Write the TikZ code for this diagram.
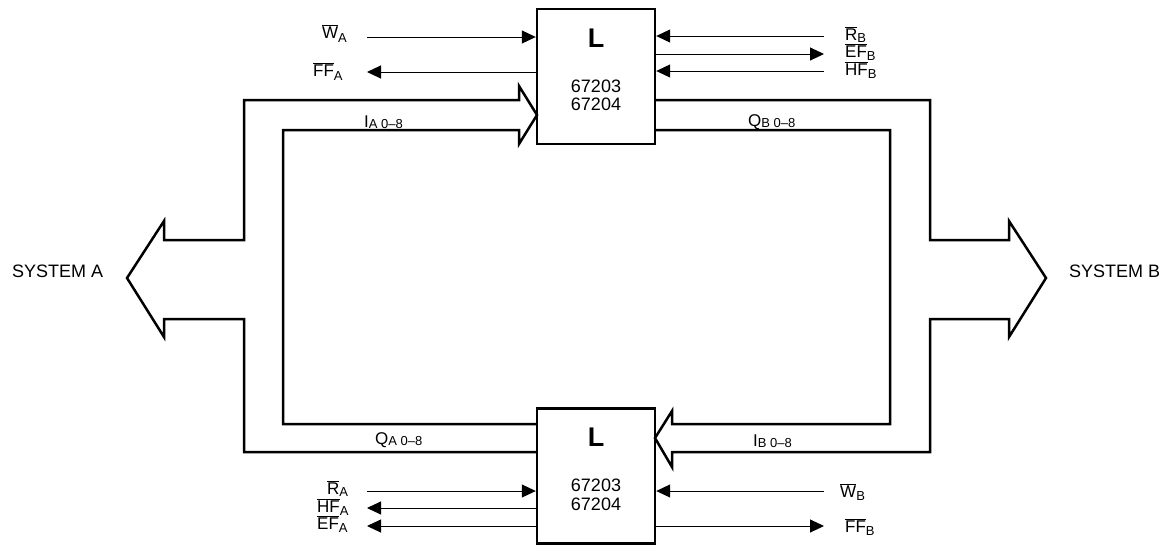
\documentclass[tikz,border=0pt]{standalone}
\usepackage{fontspec}
\setmainfont{Liberation Sans}
\usetikzlibrary{arrows.meta}
\newcommand\ovbar[1]{\ensuremath{\overline{\hbox{#1}}}}
\newcommand\subx[2][3pt]{\raisebox{-#1}{\fontsize{13}{13}\selectfont #2}}
\begin{document}
\begin{tikzpicture}[x=1pt,y=-1pt,
  chip/.style={draw,line width=2.4pt,minimum width=118pt,minimum height=135pt,inner sep=0pt},
  sigline/.style={line width=1pt,-{Triangle[length=14pt,width=13pt]}},
  bus/.style={line width=2.5pt,line join=miter},
  lbl/.style={font=\fontsize{17}{17}\selectfont,inner sep=0pt},
  big/.style={font=\fontsize{18}{18}\selectfont,inner sep=0pt},
  bigL/.style={font=\bfseries\fontsize{27}{27}\selectfont,inner sep=0pt}]
\useasboundingbox (0,0) rectangle (1167,547);

% buses
\draw[bus] (537,452) -- (244,452) -- (244,319) -- (164,319) -- (164,337) -- (127,278)
  -- (164,221) -- (164,240) -- (244,240) -- (244,100) -- (519,100) -- (519,86)
  -- (537,115) -- (519,144) -- (519,130) -- (283,130) -- (283,424) -- (537,424);
\draw[bus] (655,100) -- (930,100) -- (930,240) -- (1009,240) -- (1009,221) -- (1046,278)
  -- (1009,337) -- (1009,319) -- (930,319) -- (930,452) -- (672,452) -- (672,467)
  -- (655,438) -- (672,411) -- (672,424) -- (890,424) -- (890,130) -- (655,130);

% chips
\node[chip] (top) at (596,76.5) {};
\node[chip] (bot) at (596,476) {};
\node[bigL] (topL) at (596,38) {L};
\node[big] (topn1) at (596,86) {67203};
\node[big] (topn2) at (596,104.5) {67204};
\node[bigL] (botL) at (596,437) {L};
\node[big] (botn1) at (596,485.5) {67203};
\node[big] (botn2) at (596,504) {67204};

% signal coordinates
\coordinate (wa) at (367,37);
\coordinate (ffa) at (367,72);
\coordinate (rb) at (824,36);
\coordinate (efb) at (824,54);
\coordinate (hfb) at (824,71);
\coordinate (ra) at (367,491);
\coordinate (hfa) at (367,508);
\coordinate (efa) at (367,526);
\coordinate (wb) at (824,491);
\coordinate (ffb) at (824,526);

\draw[sigline] (wa) -- (wa -| top.west);
\draw[sigline] (ffa -| top.west) -- (ffa);
\draw[sigline] (rb) -- (rb -| top.east);
\draw[sigline] (efb -| top.east) -- (efb);
\draw[sigline] (hfb) -- (hfb -| top.east);
\draw[sigline] (ra) -- (ra -| bot.west);
\draw[sigline] (hfa -| bot.west) -- (hfa);
\draw[sigline] (efa -| bot.west) -- (efa);
\draw[sigline] (wb) -- (wb -| bot.east);
\draw[sigline] (ffb -| bot.east) -- (ffb);

% signal labels
\node[lbl,anchor=base west] (lwa) at (322,38) {\ovbar{W}\subx[4pt]{A}};
\node[lbl,anchor=base west] (lffa) at (313,76) {\ovbar{FF}\subx[4pt]{A}};
\node[lbl,anchor=base west] (lrb) at (845,40) {\ovbar{R}\subx[2pt]{B}};
\node[lbl,anchor=base west] (lefb) at (845,57) {\ovbar{EF}\subx{B}};
\node[lbl,anchor=base west] (lhfb) at (845,75) {\ovbar{HF}\subx{B}};
\node[lbl,anchor=base west] (lra) at (327,494) {\ovbar{R}\subx[2pt]{A}};
\node[lbl,anchor=base west] (lhfa) at (317,512) {\ovbar{HF}\subx{A}};
\node[lbl,anchor=base west] (lefa) at (317,529) {\ovbar{EF}\subx{A}};
\node[lbl,anchor=base west] (lwb) at (840,497) {\ovbar{W}\subx{B}};
\node[lbl,anchor=base west] (lffb) at (845,532) {\ovbar{FF}\subx{B}};

% bus labels
\node[lbl,anchor=base west] (lia) at (364,127) {I\subx[1.5pt]{A 0–8}};
\node[lbl,anchor=base west] (lqb) at (748,126) {Q\subx[1.5pt]{B 0–8}};
\node[lbl,anchor=base west] (lqa) at (375,444) {Q\subx[1.5pt]{A 0–8}};
\node[lbl,anchor=base west] (lib) at (753,446) {I\subx[1.5pt]{B 0–8}};

% systems
\node[big,anchor=west] (sysa) at (12,271) {SYSTEM A};
\node[big,anchor=west] (sysb) at (1069,271) {SYSTEM B};
\end{tikzpicture}
\end{document}
